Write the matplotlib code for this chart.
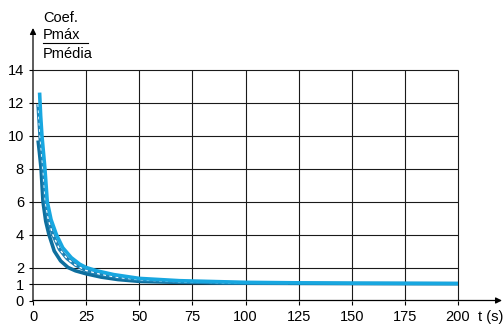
import matplotlib
matplotlib.use("Agg")
import matplotlib.pyplot as plt
from matplotlib.lines import Line2D

plt.rcParams['font.family'] = ['Liberation Sans', 'DejaVu Sans']

# values
x_ticks = [0, 25, 50, 75, 100, 125, 150, 175, 200]
y_ticks = [0, 1, 2, 4, 6, 8, 10, 12, 14]

t_light = [3.1, 3.6, 4.2, 5.6, 6.7, 8.5, 11, 14, 18, 22, 25, 30, 38, 50, 69, 100, 125, 150, 200]
v_light = [12.6, 11.2, 10.0, 8.0, 6.0, 4.9, 4.0, 3.2, 2.6, 2.2, 2.0, 1.8, 1.57, 1.34, 1.2, 1.1, 1.07, 1.05, 1.03]

t_dark = [2.4, 3.0, 3.8, 4.7, 6.0, 7.5, 10, 13, 16.5, 20, 25, 32, 40, 51, 69, 100, 150, 200]
v_dark = [9.7, 9.0, 8.0, 6.0, 4.8, 4.0, 3.0, 2.4, 2.0, 1.8, 1.62, 1.42, 1.27, 1.15, 1.1, 1.05, 1.03, 1.02]

t_dash = [2.4, 3.3, 4.7, 5.8, 7.2, 9.3, 12.5, 16, 20, 25, 32, 40, 51, 69, 90, 120]
v_dash = [11.9, 10.0, 8.0, 6.0, 4.9, 4.0, 3.1, 2.55, 2.15, 1.82, 1.58, 1.4, 1.25, 1.14, 1.08, 1.05]

W, H = 503, 325
fig = plt.figure(figsize=(W / 100, H / 100), dpi=100)

# axes: t=0 at x=33px, v=0 at y=300px (from top)
x0, x1 = 33, 502
y0, y1 = 300.5, 28
xmax = (x1 - x0) / 2.125
ymax = (y0 - y1) / 16.5
ax = fig.add_axes([x0 / W, (H - y0) / H, (x1 - x0) / W, (y0 - y1) / H])
ax.set_xlim(0, xmax)
ax.set_ylim(0, ymax)
for s in ax.spines.values():
    s.set_visible(False)
ax.patch.set_alpha(0)

# grid
grid_c = '#1a1a1a'
for y in y_ticks[1:]:
    ax.hlines(y, 0, 200, color=grid_c, lw=0.8)
for x in x_ticks[1:]:
    ax.vlines(x, 0, 14, color=grid_c, lw=0.8)

# axes with arrows
arrow = dict(arrowstyle='-|>', color='k', lw=0.9, mutation_scale=9, shrinkA=0, shrinkB=0)
ax.annotate('', xy=(xmax, 0), xytext=(0, 0), arrowprops=arrow, annotation_clip=False)
ax.annotate('', xy=(0, ymax), xytext=(0, 0), arrowprops=arrow, annotation_clip=False)

ax.set_xticks(x_ticks)
ax.set_yticks(y_ticks)
ax.tick_params(direction='out', length=3, width=0.8, color='k', pad=3.5, labelsize=10.5)

# curves
ax.plot(t_dark, v_dark, color='#0e6f9e', lw=2.6, solid_capstyle='butt')
ax.plot(t_dash, v_dash, color='#1f82b5', lw=2.6, solid_capstyle='butt')
ax.plot(t_dash, v_dash, color='white', lw=1.0, linestyle=(0, (2, 2.5)))
ax.plot(t_light, v_light, color='#18a7e0', lw=2.6, solid_capstyle='butt')

ax.annotate('t (s)', xy=(209.5, 0), xytext=(0, -6.5), textcoords='offset points',
            ha='left', va='top', fontsize=10.5, annotation_clip=False)

# y axis label
fig.text(43 / W, 1 - 22 / H, 'Coef.', fontsize=10.5, va='baseline', ha='left')
fig.text(43 / W, 1 - 39 / H, 'Pmáx', fontsize=10.5, va='baseline', ha='left')
fig.text(43 / W, 1 - 58 / H, 'Pmédia', fontsize=10.5, va='baseline', ha='left')
fig.add_artist(Line2D([43 / W, 88 / W], [1 - 43 / H, 1 - 43 / H], color='k', lw=0.8))

fig.savefig('out.png', dpi=100)
